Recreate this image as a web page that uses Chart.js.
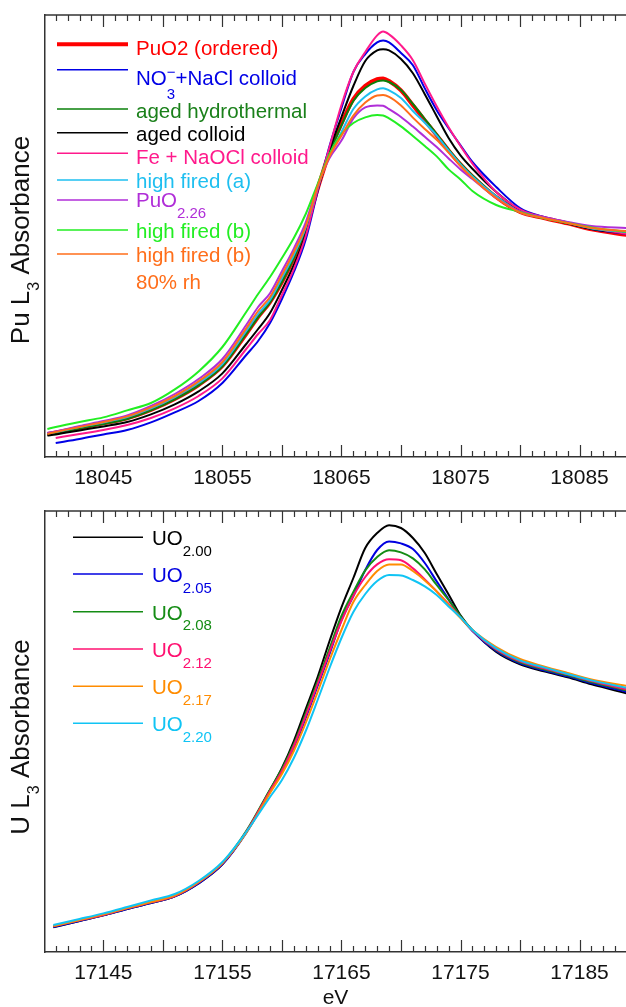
<!DOCTYPE html>
<html>
<head>
<meta charset="utf-8">
<script src="https://cdn.jsdelivr.net/npm/chart.js@4.4.1/dist/chart.umd.min.js"></script>
<style>
html, body { margin: 0; padding: 0; background: #fff; }
#wrap { position: relative; width: 626px; height: 1007px; overflow: hidden; }
canvas { position: absolute; left: 0; }
</style>
</head>
<body>
<div id="wrap">
  <canvas id="puChart" width="626" height="500" style="top:0"></canvas>
  <canvas id="uChart" width="626" height="507" style="top:500px"></canvas>
</div>
<script>
// Pu L3 edge (top panel), normalised absorbance
const puEnergy = [18040.3, 18041, 18043, 18045, 18047, 18049, 18051, 18053, 18055, 18057, 18058, 18059,
    18060, 18061, 18062, 18063, 18064, 18065, 18066, 18067, 18068, 18068.5, 18069, 18070, 18071, 18072,
    18073, 18074, 18075, 18076, 18078, 18080, 18082, 18084, 18086, 18089];
const puOrdered = [0.030, 0.038, 0.060, 0.083, 0.108, 0.150, 0.205, 0.275, 0.370, 0.530, 0.615, 0.690, 0.790, 0.910, 1.055, 1.255, 1.440, 1.582, 1.705, 1.771, 1.804, 1.808, 1.795, 1.748, 1.674, 1.598, 1.524, 1.448, 1.378, 1.318, 1.214, 1.140, 1.110, 1.083, 1.053, 1.025];
const puNitrateColloid = [null, -0.015, 0.005, 0.028, 0.050, 0.088, 0.138, 0.195, 0.285, 0.425, 0.495, 0.585, 0.705, 0.840, 1.003, 1.243, 1.470, 1.660, 1.840, 1.930, 1.988, 1.997, 1.988, 1.935, 1.874, 1.758, 1.649, 1.559, 1.473, 1.390, 1.265, 1.160, 1.115, 1.085, 1.055, 1.030];
const puAgedHydro = [0.028, 0.035, 0.058, 0.080, 0.105, 0.148, 0.203, 0.273, 0.368, 0.530, 0.613, 0.688, 0.790, 0.910, 1.055, 1.255, 1.435, 1.573, 1.695, 1.760, 1.793, 1.798, 1.790, 1.750, 1.680, 1.605, 1.530, 1.453, 1.383, 1.323, 1.218, 1.145, 1.113, 1.085, 1.058, 1.038];
const puAgedColloid = [0.022, 0.028, 0.048, 0.068, 0.090, 0.128, 0.178, 0.243, 0.333, 0.480, 0.555, 0.635, 0.750, 0.875, 1.030, 1.250, 1.450, 1.615, 1.770, 1.895, 1.948, 1.954, 1.948, 1.905, 1.834, 1.729, 1.619, 1.510, 1.423, 1.356, 1.240, 1.150, 1.113, 1.083, 1.055, 1.033];
const puFeColloid = [null, 0.010, 0.030, 0.050, 0.075, 0.110, 0.158, 0.220, 0.308, 0.455, 0.530, 0.600, 0.725, 0.855, 1.020, 1.250, 1.465, 1.675, 1.840, 1.940, 2.023, 2.042, 2.028, 1.973, 1.899, 1.782, 1.669, 1.564, 1.470, 1.382, 1.240, 1.153, 1.113, 1.088, 1.060, 1.030];
const puHighFiredA = [0.035, 0.040, 0.065, 0.088, 0.115, 0.158, 0.215, 0.285, 0.380, 0.545, 0.630, 0.700, 0.810, 0.925, 1.063, 1.265, 1.425, 1.539, 1.655, 1.718, 1.753, 1.759, 1.748, 1.710, 1.645, 1.586, 1.522, 1.448, 1.378, 1.318, 1.218, 1.140, 1.110, 1.085, 1.058, 1.040];
const puO226 = [0.035, 0.043, 0.070, 0.095, 0.123, 0.170, 0.230, 0.305, 0.405, 0.575, 0.665, 0.734, 0.844, 0.957, 1.088, 1.273, 1.410, 1.497, 1.608, 1.663, 1.673, 1.671, 1.654, 1.615, 1.567, 1.516, 1.465, 1.408, 1.353, 1.305, 1.210, 1.143, 1.115, 1.090, 1.070, 1.060];
const puHighFiredB = [0.055, 0.065, 0.090, 0.113, 0.148, 0.185, 0.253, 0.343, 0.465, 0.640, 0.730, 0.815, 0.910, 1.010, 1.130, 1.280, 1.430, 1.530, 1.585, 1.613, 1.625, 1.623, 1.608, 1.568, 1.520, 1.470, 1.418, 1.353, 1.303, 1.245, 1.175, 1.140, 1.108, 1.085, 1.063, 1.040];
const puHighFiredB80 = [0.030, 0.040, 0.065, 0.090, 0.118, 0.163, 0.220, 0.293, 0.390, 0.558, 0.645, 0.715, 0.825, 0.940, 1.070, 1.268, 1.419, 1.521, 1.622, 1.687, 1.723, 1.725, 1.716, 1.673, 1.612, 1.555, 1.501, 1.437, 1.370, 1.310, 1.210, 1.138, 1.110, 1.085, 1.060, 1.045];
const puNames = ['PuO2 (ordered)', 'NO_{3}^{\u2212}+NaCl colloid', 'aged hydrothermal', 'aged colloid',
    'Fe + NaOCl colloid', 'high fired (a)', 'PuO_{2.26}', 'high fired (b)', 'high fired (b)'];
const puNote = '80% rh';
const puTicks = [18045, 18055, 18065, 18075, 18085];

// U L3 edge (bottom panel)
const uEnergy = [17140.8, 17143, 17145, 17147, 17149, 17151, 17153, 17155, 17157, 17159, 17160, 17161,
    17162, 17163, 17164, 17165, 17166, 17167, 17168, 17169, 17170, 17171, 17172, 17173, 17174, 17175,
    17176, 17178, 17180, 17182, 17184, 17186, 17189];
const uo200 = [0.013, 0.045, 0.073, 0.105, 0.135, 0.168, 0.233, 0.328, 0.490, 0.700, 0.810, 0.945, 1.105, 1.265, 1.445, 1.613, 1.760, 1.910, 1.985, 2.024, 2.010, 1.960, 1.885, 1.780, 1.678, 1.573, 1.498, 1.390, 1.328, 1.293, 1.263, 1.228, 1.183];
const uo205 = [0.015, 0.045, 0.073, 0.105, 0.135, 0.168, 0.233, 0.328, 0.485, 0.690, 0.790, 0.910, 1.060, 1.220, 1.380, 1.550, 1.670, 1.800, 1.900, 1.943, 1.933, 1.905, 1.835, 1.743, 1.653, 1.565, 1.495, 1.395, 1.333, 1.298, 1.268, 1.235, 1.190];
const uo208 = [0.018, 0.048, 0.075, 0.108, 0.138, 0.170, 0.238, 0.335, 0.495, 0.703, 0.805, 0.930, 1.085, 1.245, 1.408, 1.570, 1.690, 1.798, 1.865, 1.899, 1.888, 1.858, 1.803, 1.725, 1.650, 1.570, 1.500, 1.400, 1.338, 1.303, 1.273, 1.240, 1.198];
const uo212 = [0.018, 0.048, 0.075, 0.108, 0.138, 0.170, 0.238, 0.333, 0.490, 0.695, 0.795, 0.920, 1.070, 1.230, 1.390, 1.545, 1.670, 1.765, 1.828, 1.854, 1.849, 1.808, 1.753, 1.693, 1.630, 1.563, 1.498, 1.403, 1.343, 1.308, 1.278, 1.245, 1.203];
const uo217 = [0.020, 0.050, 0.078, 0.110, 0.140, 0.173, 0.240, 0.335, 0.485, 0.685, 0.780, 0.895, 1.035, 1.190, 1.350, 1.500, 1.640, 1.725, 1.795, 1.828, 1.828, 1.795, 1.748, 1.693, 1.625, 1.560, 1.500, 1.415, 1.355, 1.318, 1.285, 1.253, 1.220];
const uo220 = [0.025, 0.055, 0.083, 0.115, 0.148, 0.180, 0.245, 0.340, 0.490, 0.665, 0.750, 0.860, 0.995, 1.150, 1.310, 1.460, 1.590, 1.680, 1.745, 1.775, 1.773, 1.750, 1.718, 1.675, 1.618, 1.563, 1.500, 1.408, 1.348, 1.313, 1.280, 1.248, 1.210];
const uNames = ['UO_{2.00}', 'UO_{2.05}', 'UO_{2.08}', 'UO_{2.12}', 'UO_{2.17}', 'UO_{2.20}'];
const uTicks = [17145, 17155, 17165, 17175, 17185];

const FONT = '"Liberation Sans", Arial, Helvetica, sans-serif';

// text with _{sub} and ^{sup} pieces
function layoutRich(ctx, str, size, subRatio, subDrop) {
    const re = /([_^])\{([^}]*)\}|([^_^]+)/g;
    const items = [];
    let m, x = 0, prev = null;
    while ((m = re.exec(str))) {
        const kind = m[1] ? (m[1] === '_' ? 'sub' : 'sup') : '';
        const t = m[1] ? m[2] : m[3];
        const fs = kind ? Math.round(size * subRatio) : size;
        ctx.font = fs + 'px ' + FONT;
        const w = ctx.measureText(t).width;
        let dy = kind === 'sub' ? size * subDrop : kind === 'sup' ? -size * 0.42 : 0;
        let x0 = x;
        if (kind === 'sup' && prev && prev.kind === 'sub') {
            // stacked sub + sup (NO3-)
            prev.dy = size * 0.68;
            x0 = prev.x;
            x = Math.max(prev.x + prev.w, x0 + w);
        } else {
            x += w;
        }
        const it = { t, kind, fs, w, x: x0, dy };
        items.push(it);
        prev = it;
    }
    return { items, width: x };
}

function drawRich(ctx, str, x, y, size, color, align, subRatio, subDrop) {
    const lay = layoutRich(ctx, str, size, subRatio || 0.72, subDrop || 0.5);
    const start = align === 'center' ? x - lay.width / 2 : x;
    ctx.fillStyle = color;
    ctx.textAlign = 'left';
    ctx.textBaseline = 'alphabetic';
    const base = y + size * 0.36;
    lay.items.forEach(it => {
        ctx.font = it.fs + 'px ' + FONT;
        ctx.fillText(it.t, start + it.x, base + it.dy);
    });
}

const framePlugin = {
    id: 'xasFrame',
    afterDraw(chart, args, opts) {
        const ctx = chart.ctx;
        const area = chart.chartArea;
        const xs = chart.scales.x;
        ctx.save();
        // top frame line with inward ticks, inward ticks on the bottom axis too
        ctx.strokeStyle = '#333';
        ctx.lineWidth = 1.5;
        ctx.beginPath();
        ctx.moveTo(area.left, area.top);
        ctx.lineTo(area.right, area.top);
        ctx.stroke();
        ctx.lineWidth = 1.2;
        for (let v = Math.ceil(xs.min); v <= xs.max; v++) {
            const px = Math.round(xs.getPixelForValue(v)) + 0.5;
            const len = v % 5 === 0 ? 12 : 6;
            ctx.beginPath();
            ctx.moveTo(px, area.bottom);
            ctx.lineTo(px, area.bottom - len);
            ctx.moveTo(px, area.top);
            ctx.lineTo(px, area.top + len);
            ctx.stroke();
        }

        // y axis title
        ctx.save();
        ctx.translate(opts.titleX, opts.titleY);
        ctx.rotate(-Math.PI / 2);
        drawRich(ctx, opts.title, 0, 0, 26, '#111', 'center', 0.6, 0.36);
        ctx.restore();

        // legend
        chart.data.datasets.forEach((ds, i) => {
            const row = opts.rows[i];
            ctx.strokeStyle = ds.borderColor;
            ctx.lineWidth = ds.legendWidth || 1.5;
            ctx.beginPath();
            ctx.moveTo(opts.lineX[0], row[0]);
            ctx.lineTo(opts.lineX[1], row[0]);
            ctx.stroke();
            drawRich(ctx, ds.label, opts.textX, row[1], 20.5, ds.textColor || ds.borderColor, 'left');
        });
        (opts.extra || []).forEach(e => {
            drawRich(ctx, e.text, opts.textX, e.y, 20.5, e.color, 'left');
        });
        ctx.restore();
    }
};

function series(xs, ys) {
    return xs.map((x, i) => ({ x: x, y: ys[i] }));
}

function makeSets(xs, list) {
    const n = list.length;
    return list.map((s, i) => ({
        label: s.name,
        data: series(xs, s.values),
        borderColor: s.color,
        textColor: s.text,
        borderWidth: s.width || 2,
        legendWidth: s.width ? 4 : 1.5,
        pointRadius: 0,
        fill: false,
        cubicInterpolationMode: 'monotone',
        order: n - i
    }));
}

function xScale(min, max, ticks, height, withTitle) {
    return {
        type: 'linear',
        position: 'bottom',
        min: min,
        max: max,
        grid: { display: false, drawTicks: false },
        border: { display: true, color: '#333', width: 1.5 },
        ticks: {
            padding: 9,
            color: '#111',
            maxRotation: 0,
            autoSkip: false,
            font: { family: FONT, size: 21 },
            callback: v => String(v)
        },
        title: {
            display: withTitle,
            text: 'eV',
            color: '#111',
            font: { family: FONT, size: 21 },
            padding: { top: 0, bottom: -4 }
        },
        afterBuildTicks: s => { s.ticks = ticks.map(v => ({ value: v })); },
        afterFit: s => { s.height = height; }
    };
}

function yScale(min, max) {
    return {
        min: min,
        max: max,
        ticks: { display: false },
        grid: { display: false, drawTicks: false },
        border: { display: true, color: '#333', width: 1.5 },
        afterFit: s => { s.width = 45; }
    };
}

new Chart(document.getElementById('puChart'), {
    type: 'line',
    data: {
        datasets: makeSets(puEnergy, [
            { name: puNames[0], values: puOrdered, color: '#ff0000', width: 4 },
            { name: puNames[1], values: puNitrateColloid, color: '#0000e6' },
            { name: puNames[2], values: puAgedHydro, color: '#0a800a', text: '#1a801a' },
            { name: puNames[3], values: puAgedColloid, color: '#000000' },
            { name: puNames[4], values: puFeColloid, color: '#ff1a8c' },
            { name: puNames[5], values: puHighFiredA, color: '#1ebff0' },
            { name: puNames[6], values: puO226, color: '#b02ed8' },
            { name: puNames[7], values: puHighFiredB, color: '#22ee22' },
            { name: puNames[8], values: puHighFiredB80, color: '#ff6e1a' }
        ])
    },
    options: {
        responsive: false,
        animation: false,
        devicePixelRatio: 1,
        layout: { padding: { top: 15, right: 0, left: 0, bottom: 0 } },
        plugins: {
            legend: { display: false },
            tooltip: { enabled: false },
            xasFrame: {
                title: 'Pu L_{3} Absorbance',
                titleX: 20,
                titleY: 240,
                lineX: [57, 128],
                textX: 136,
                rows: [[44.3, 47.7], [69.7, 78], [109, 111], [132.7, 133.7], [153.3, 157],
                       [180, 180.5], [200, 200], [230, 231], [254, 255]],
                extra: [{ text: puNote, y: 282, color: '#ff6e1a' }]
            }
        },
        scales: {
            x: xScale(18040.1, 18088.9, puTicks, 43, false),
            y: yScale(-0.085, 2.125)
        }
    },
    plugins: [framePlugin]
});

new Chart(document.getElementById('uChart'), {
    type: 'line',
    data: {
        datasets: makeSets(uEnergy, [
            { name: uNames[0], values: uo200, color: '#000000' },
            { name: uNames[1], values: uo205, color: '#0000e0' },
            { name: uNames[2], values: uo208, color: '#148c14' },
            { name: uNames[3], values: uo212, color: '#ff1070' },
            { name: uNames[4], values: uo217, color: '#ff8c00' },
            { name: uNames[5], values: uo220, color: '#10c4f4' }
        ])
    },
    options: {
        responsive: false,
        animation: false,
        devicePixelRatio: 1,
        layout: { padding: { top: 11, right: 0, left: 0, bottom: 0 } },
        plugins: {
            legend: { display: false },
            tooltip: { enabled: false },
            xasFrame: {
                title: 'U L_{3} Absorbance',
                titleX: 20,
                titleY: 237,
                lineX: [73, 143],
                textX: 152,
                rows: [[37.3, 38], [74, 75], [111.7, 112.5], [149, 150], [186.3, 187], [223.3, 224]]
            }
        },
        scales: {
            x: xScale(17140.1, 17188.9, uTicks, 55, true),
            y: yScale(-0.11, 2.095)
        }
    },
    plugins: [framePlugin]
});
</script>
</body>
</html>
